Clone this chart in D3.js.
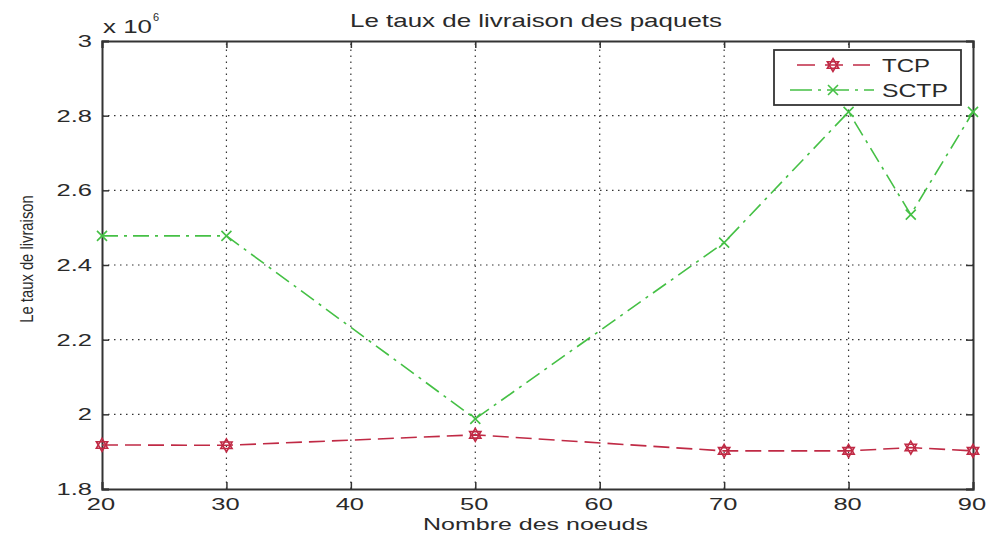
<!DOCTYPE html>
<html>
<head>
<meta charset="utf-8">
<script src="https://cdn.jsdelivr.net/npm/d3@7"></script>
<style>
  body { margin: 0; background: #fff; }
  text { font-family: "Liberation Sans", Arial, sans-serif; fill: #2a2a2a; }
</style>
</head>
<body>
<div id="chart"></div>
<script>
// values (x 10^6)
const nodesX = [20, 30, 50, 70, 80, 85, 90];
const tcp = [1.918, 1.917, 1.945, 1.902, 1.902, 1.911, 1.902];
const sctp = [2.478, 2.478, 1.988, 2.46, 2.81, 2.535, 2.81];
const xTicks = [20, 30, 40, 50, 60, 70, 80, 90];
const yTicks = [1.8, 2, 2.2, 2.4, 2.6, 2.8, 3];

const width = 990, height = 537;
const margin = { top: 41, right: 17, bottom: 48, left: 102 };
const stretch = 1.5; // reference glyphs are drawn wide

const svg = d3.select('#chart').append('svg')
    .attr('width', width)
    .attr('height', height);

const x = d3.scaleLinear().domain([20, 90]).range([margin.left, width - margin.right]);
const y = d3.scaleLinear().domain([1.8, 3]).range([height - margin.bottom, margin.top]);

// grid
const grid = svg.append('g').attr('stroke', '#333').attr('stroke-width', 1.2).attr('stroke-dasharray', '1.5,4.5');
grid.selectAll('.gx').data(xTicks.slice(1, -1)).enter().append('line')
    .attr('x1', d => x(d)).attr('x2', d => x(d))
    .attr('y1', y(1.8)).attr('y2', y(3));
grid.selectAll('.gy').data(yTicks.slice(1, -1)).enter().append('line')
    .attr('y1', d => y(d)).attr('y2', d => y(d))
    .attr('x1', x(20)).attr('x2', x(90));

// axes
const xAxis = svg.append('g')
    .attr('transform', `translate(0,${y(1.8)})`)
    .call(d3.axisBottom(x).tickValues(xTicks).tickSize(-7).tickPadding(9).tickFormat(d3.format('d')));
const xAxisTop = svg.append('g')
    .attr('transform', `translate(0,${y(3)})`)
    .call(d3.axisTop(x).tickValues(xTicks).tickSize(-7).tickFormat(''));
const yAxis = svg.append('g')
    .attr('transform', `translate(${x(20)},0)`)
    .call(d3.axisLeft(y).tickValues(yTicks).tickSize(-7).tickPadding(10).tickFormat(d => d3.format('')(+d.toFixed(1))));
const yAxisRight = svg.append('g')
    .attr('transform', `translate(${x(90)},0)`)
    .call(d3.axisRight(y).tickValues(yTicks).tickSize(-7).tickFormat(''));

[xAxis, xAxisTop, yAxis, yAxisRight].forEach(a => {
    a.select('.domain').attr('stroke', '#333').attr('stroke-width', 2);
    a.selectAll('.tick line').attr('stroke', '#333').attr('stroke-width', 1.5);
    a.selectAll('text').attr('font-size', 17).attr('fill', '#2a2a2a')
        .style('font-family', '"Liberation Sans", Arial, sans-serif');
});
xAxis.selectAll('text').attr('x', -1.5 / stretch).attr('transform', `scale(${stretch},1)`);
yAxis.selectAll('text').attr('x', -10 / stretch).attr('transform', `scale(${stretch},1)`);

// exponent label
svg.append('text').attr('x', 103).attr('y', 33).attr('font-size', 18)
    .attr('textLength', 49).attr('lengthAdjust', 'spacingAndGlyphs').text('x 10');
svg.append('text').attr('x', 153).attr('y', 21).attr('font-size', 11).text('6');

// lines
const line = d3.line().x((d, i) => x(nodesX[i])).y(d => y(d));

const tcpColor = '#c02a45';
const sctpColor = '#45c045';

svg.append('path').datum(tcp)
    .attr('d', line).attr('fill', 'none')
    .attr('stroke', tcpColor).attr('stroke-width', 1.6)
    .attr('stroke-dasharray', '16,7');

svg.append('path').datum(sctp)
    .attr('d', line).attr('fill', 'none')
    .attr('stroke', sctpColor).attr('stroke-width', 1.6)
    .attr('stroke-dasharray', '16,6,3,6');

// markers
function hexagram(g, cx, cy, r, color) {
    const tri = a => d3.range(3).map(k => {
        const t = a + k * 2 * Math.PI / 3;
        return [cx + r * Math.sin(t), cy - r * Math.cos(t)];
    });
    [0, Math.PI].forEach(a => {
        g.append('polygon').attr('points', tri(a).map(p => p.join(',')).join(' '))
            .attr('fill', 'none').attr('stroke', color).attr('stroke-width', 1.6);
    });
}
function cross(g, cx, cy, r, color) {
    g.append('path')
        .attr('d', `M${cx - r},${cy - r}L${cx + r},${cy + r}M${cx - r},${cy + r}L${cx + r},${cy - r}`)
        .attr('stroke', color).attr('stroke-width', 1.6);
}

const markG = svg.append('g');
tcp.forEach((v, i) => hexagram(markG, x(nodesX[i]), y(v), 6.5, tcpColor));
sctp.forEach((v, i) => cross(markG, x(nodesX[i]), y(v), 5, sctpColor));

// legend
const lg = svg.append('g');
lg.append('rect').attr('x', 774).attr('y', 50).attr('width', 187).attr('height', 55)
    .attr('fill', '#fff').attr('stroke', '#333').attr('stroke-width', 1.8);
lg.append('line').attr('x1', 797).attr('x2', 870).attr('y1', 65).attr('y2', 65)
    .attr('stroke', tcpColor).attr('stroke-width', 1.6).attr('stroke-dasharray', '18,10');
hexagram(lg, 833, 65, 6.5, tcpColor);
lg.append('line').attr('x1', 790).attr('x2', 874).attr('y1', 90).attr('y2', 90)
    .attr('stroke', sctpColor).attr('stroke-width', 1.6).attr('stroke-dasharray', '22,6,3,6');
cross(lg, 833, 90, 5, sctpColor);
lg.append('text').attr('x', 882).attr('y', 72).attr('font-size', 18)
    .attr('textLength', 48).attr('lengthAdjust', 'spacingAndGlyphs').text('TCP');
lg.append('text').attr('x', 882).attr('y', 97).attr('font-size', 18)
    .attr('textLength', 66).attr('lengthAdjust', 'spacingAndGlyphs').text('SCTP');

// title and axis labels
svg.append('text').attr('x', 350).attr('y', 27)
    .attr('font-size', 19).attr('textLength', 372).attr('lengthAdjust', 'spacingAndGlyphs')
    .text('Le taux de livraison des paquets');
svg.append('text').attr('x', 423).attr('y', 530)
    .attr('font-size', 17).attr('textLength', 225).attr('lengthAdjust', 'spacingAndGlyphs')
    .text('Nombre des noeuds');
svg.append('text').attr('transform', 'translate(33,259) rotate(-90) scale(0.78,1)')
    .attr('text-anchor', 'middle').attr('font-size', 19).text('Le taux de livraison');
</script>
</body>
</html>
